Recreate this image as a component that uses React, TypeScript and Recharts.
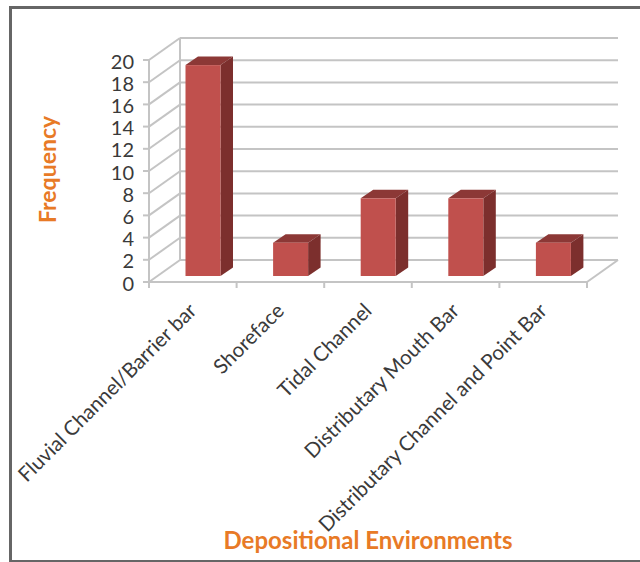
import { BarChart, Bar, XAxis, YAxis, usePlotArea } from "recharts";

const environments = [
  "Fluvial Channel/Barrier bar",
  "Shoreface",
  "Tidal Channel",
  "Distributary Mouth Bar",
  "Distributary Channel and Point Bar",
];
const frequency = [19, 3, 7, 7, 3];
const yTicks = [0, 2, 4, 6, 8, 10, 12, 14, 16, 18, 20];

const data = environments.map((name, i) => ({ name, frequency: frequency[i] }));

const GRID = "#c4c4c4";
const ORANGE = "#e87a26";
const FONT = "Lato, Carlito, sans-serif";

// how far the back wall sits behind the front axes
const WALL_DX = 31;
const WALL_DY = -22;
// bars stand part way into the floor, and have their own depth
const BAR_DX = 10.5;
const BAR_DY = -6;
const DEPTH_DX = 12.5;
const DEPTH_DY = -8.5;

function Wall() {
  const plot = usePlotArea();
  if (!plot) return null;
  const { x, y, width, height } = plot;
  const bottom = y + height;
  const step = width / environments.length;
  return (
    <g stroke={GRID} strokeWidth={2} fill="none">
      {yTicks.map((t) => {
        const ty = bottom - (t / 20) * height;
        return (
          <g key={t}>
            <line x1={x} y1={ty} x2={x + WALL_DX} y2={ty + WALL_DY} />
            <line
              x1={x + WALL_DX}
              y1={ty + WALL_DY}
              x2={x + width + WALL_DX}
              y2={ty + WALL_DY}
            />
          </g>
        );
      })}
      <line x1={x + WALL_DX} y1={y + WALL_DY} x2={x + WALL_DX} y2={bottom + WALL_DY} />
      <line x1={x + width} y1={bottom} x2={x + width + WALL_DX} y2={bottom + WALL_DY} />
      {environments.map((_, i) => (
        <line
          key={i}
          x1={x + step * (i + 1)}
          y1={bottom}
          x2={x + step * (i + 1)}
          y2={bottom + 6}
        />
      ))}
      <line x1={x} y1={bottom} x2={x} y2={bottom + 6} />
    </g>
  );
}

function Box3D({ x, y, width, height }: any) {
  const fx = x + BAR_DX;
  const fy = y + BAR_DY;
  const h = height;
  const top = `${fx},${fy} ${fx + DEPTH_DX},${fy + DEPTH_DY} ${fx + width + DEPTH_DX},${fy + DEPTH_DY} ${fx + width},${fy}`;
  const side = `${fx + width},${fy} ${fx + width + DEPTH_DX},${fy + DEPTH_DY} ${fx + width + DEPTH_DX},${fy + h + DEPTH_DY} ${fx + width},${fy + h}`;
  return (
    <g>
      <polygon points={top} fill="#8c3836" />
      <polygon points={side} fill="#7c2f2d" />
      <rect x={fx} y={fy} width={width} height={h} fill="#c0504d" />
    </g>
  );
}

function CategoryTick({ x, y, payload }: any) {
  return (
    <text
      x={x + 5}
      y={y + 22}
      transform={`rotate(-45 ${x + 5} ${y + 22})`}
      textAnchor="end"
      fill="#3a3a3a"
      fontSize={20.5}
      fontFamily={FONT}
    >
      {payload.value}
    </text>
  );
}

export default function App() {
  return (
    <div
      style={{
        position: "absolute",
        left: 0,
        top: 0,
        width: 640,
        height: 562,
        background: "#fff",
        overflow: "hidden",
      }}
    >
      <div
        style={{
          position: "absolute",
          left: 9,
          top: 6,
          width: 700,
          height: 551,
          border: "3px solid #666",
        }}
      />
      <BarChart
        width={640}
        height={562}
        data={data}
        margin={{ top: 60, right: 53, bottom: 10, left: 89 }}
        style={{ position: "absolute", left: 0, top: 0 }}
      >
        <Wall />
        <XAxis
          dataKey="name"
          interval={0}
          height={270}
          tick={<CategoryTick />}
          tickLine={false}
          axisLine={{ stroke: GRID, strokeWidth: 2 }}
          label={{
            value: "Depositional Environments",
            position: "insideBottom",
            dx: 0,
            dy: 2,
            fill: ORANGE,
            fontSize: 24,
            fontWeight: 700,
            fontFamily: FONT,
          }}
        />
        <YAxis
          width={60}
          domain={[0, 20]}
          ticks={yTicks}
          interval={0}
          tickMargin={9}
          tick={{ fill: "#3a3a3a", fontSize: 20, fontFamily: FONT, dy: 1.5 }}
          tickLine={{ stroke: GRID, strokeWidth: 2 }}
          axisLine={{ stroke: GRID, strokeWidth: 2 }}
          label={{
            value: "Frequency",
            angle: -90,
            position: "insideLeft",
            dx: -46,
            dy: 52,
            fill: ORANGE,
            fontSize: 23,
            fontWeight: 700,
            fontFamily: FONT,
          }}
        />
        <Bar dataKey="frequency" barSize={35} shape={<Box3D />} isAnimationActive={false} />
      </BarChart>
    </div>
  );
}
